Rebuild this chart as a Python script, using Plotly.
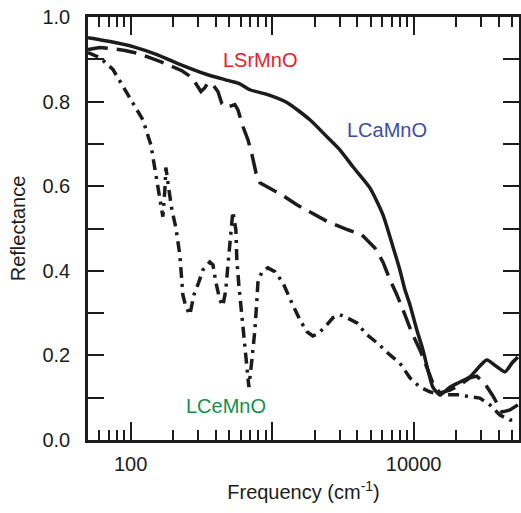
import math
import plotly.graph_objects as go

# LCaMnO (solid)
ca_f = [50, 71.4, 103.8, 153.5, 222.8, 346, 463, 528, 592, 697, 919, 1273, 1850, 2440, 3013, 3724,
        4913, 6067, 7145, 8000, 8690, 9420, 10550, 11640, 12620, 13680, 15350, 18070, 21250, 25000,
        29420, 32970, 38800, 44250, 49580, 54600]
ca_r = [0.951, 0.942, 0.930, 0.911, 0.888, 0.864, 0.852, 0.847, 0.842, 0.828, 0.817, 0.798, 0.757,
        0.717, 0.686, 0.646, 0.596, 0.533, 0.457, 0.402, 0.355, 0.320, 0.260, 0.213, 0.166, 0.125,
        0.107, 0.125, 0.137, 0.149, 0.175, 0.189, 0.173, 0.161, 0.182, 0.196]

# LSrMnO (dashed)
sr_f = [50, 60.7, 73.8, 91.2, 112.6, 136.9, 161, 189.6, 230.5, 271, 294, 314, 335, 352, 382, 414,
        442, 479, 546, 573, 622, 675, 720, 769, 820, 919, 1191, 1496, 1941, 2478, 3433, 4315, 5331,
        6067, 6808, 7627, 8690, 9730, 11090, 12420, 13680, 15350, 18070, 21250, 25000, 28000, 31910,
        36380, 42100, 47970, 54600]
sr_r = [0.923, 0.928, 0.925, 0.921, 0.914, 0.904, 0.895, 0.885, 0.873, 0.857, 0.838, 0.824, 0.833,
        0.845, 0.840, 0.824, 0.795, 0.786, 0.793, 0.781, 0.741, 0.710, 0.675, 0.632, 0.608, 0.599,
        0.578, 0.556, 0.535, 0.516, 0.497, 0.485, 0.454, 0.421, 0.379, 0.343, 0.296, 0.253, 0.213,
        0.170, 0.135, 0.111, 0.118, 0.130, 0.147, 0.151, 0.133, 0.104, 0.066, 0.071, 0.083]

# LCeMnO (dash-dot)
ce_f = [50, 60.7, 75, 86.9, 98.9, 110.8, 122.1, 139.1, 148.5, 158.5, 169.1, 174.7, 177.6, 186.5,
        195.9, 208.9, 222.8, 234.2, 245.9, 262.4, 280, 299, 324.3, 363, 382, 401, 427.6, 449, 471,
        487.5, 503.5, 528, 554.6, 563.6, 582, 602, 622, 642.7, 674.5, 685.5, 719.6, 755.6, 781, 794,
        847, 933, 1047, 1191, 1380, 1573, 1763, 1941, 2108, 2361, 2692, 3013, 3380, 3975, 4600, 5505,
        6808, 8000, 9420, 11090, 13030, 15350, 18070, 21250, 25000, 29420, 34600, 40740, 47970, 54600]
ce_r = [0.916, 0.904, 0.876, 0.840, 0.812, 0.781, 0.757, 0.698, 0.639, 0.580, 0.528, 0.592, 0.644,
        0.592, 0.544, 0.502, 0.438, 0.343, 0.315, 0.296, 0.343, 0.367, 0.402, 0.421, 0.414, 0.372,
        0.331, 0.317, 0.355, 0.414, 0.473, 0.540, 0.497, 0.426, 0.367, 0.320, 0.272, 0.225, 0.166,
        0.125, 0.189, 0.260, 0.331, 0.372, 0.398, 0.407, 0.398, 0.372, 0.324, 0.284, 0.256, 0.246,
        0.251, 0.267, 0.289, 0.296, 0.289, 0.277, 0.251, 0.230, 0.201, 0.182, 0.147, 0.125, 0.114,
        0.107, 0.107, 0.107, 0.102, 0.099, 0.083, 0.059, 0.047, 0.047]

x_major = [100, 1000, 10000]
x_major_text = ["100", "", "10000"]
mantissas = [2, 3, 4, 5, 6, 7, 8, 9]
decades = [10, 100, 1000, 10000]
x_minor = [m * d for d in decades for m in mantissas]

labels = ["LSrMnO", "LCaMnO", "LCeMnO"]
label_f = [822, 6475, 472]
label_r = [0.899, 0.734, 0.080]
label_colors = ["#e8202a", "#3b4ea3", "#12904a"]

FONT = "Arial, Liberation Sans, sans-serif"
INK = "#1c1c1c"
FS = 20

fig = go.Figure()
fig.add_trace(go.Scatter(x=ca_f, y=ca_r, mode="lines",
                         line=dict(color=INK, width=3.5, shape="spline", smoothing=0.6)))
fig.add_trace(go.Scatter(x=sr_f, y=sr_r, mode="lines", line=dict(color=INK, width=3.5, dash="20px,9px")))
fig.add_trace(go.Scatter(x=ce_f, y=ce_r, mode="lines", line=dict(color=INK, width=3.5, dash="11px,6px,3px,6px")))

for t, fx, ry, c in zip(labels, label_f, label_r, label_colors):
    fig.add_annotation(x=math.log10(fx), y=ry, xref="x", yref="y", text=t, showarrow=False,
                       font=dict(family=FONT, size=FS, color=c))

fig.update_layout(
    width=521, height=513,
    margin=dict(l=88, r=2, t=17, b=73),
    paper_bgcolor="white", plot_bgcolor="white",
    showlegend=False,
    font=dict(family=FONT, size=FS, color=INK),
)
fig.update_xaxes(
    type="log", range=[1.699, 4.745], automargin=False,
    tickvals=x_major, ticktext=x_major_text,
    ticks="inside", ticklen=18, tickwidth=2, tickcolor=INK,
    minor=dict(tickvals=x_minor, ticks="inside", ticklen=10, tickwidth=2, tickcolor=INK, showgrid=False),
    showline=True, linewidth=2.5, linecolor=INK, mirror="allticks",
    showgrid=False, zeroline=False,
    tickfont=dict(family=FONT, size=FS, color=INK),
    ticklabelstandoff=4,
    title=dict(text="Frequency (cm<sup>-1</sup>)", font=dict(family=FONT, size=FS, color=INK), standoff=12),
)
fig.update_yaxes(
    range=[0, 1.0], dtick=0.2, tick0=0, tickformat=".1f", automargin=False,
    ticks="inside", ticklen=16, tickwidth=2, tickcolor=INK,
    minor=dict(dtick=0.1, ticks="inside", ticklen=16, tickwidth=2, tickcolor=INK, showgrid=False),
    showline=True, linewidth=2.5, linecolor=INK, mirror="allticks",
    showgrid=False, zeroline=False,
    tickfont=dict(family=FONT, size=FS, color=INK),
    ticklabelstandoff=11,
    title=dict(text="Reflectance", font=dict(family=FONT, size=FS, color=INK), standoff=12),
)

fig.write_html("out.html", config={"displayModeBar": False},
               post_script="document.body.style.margin='0';document.body.style.overflow='hidden';")
